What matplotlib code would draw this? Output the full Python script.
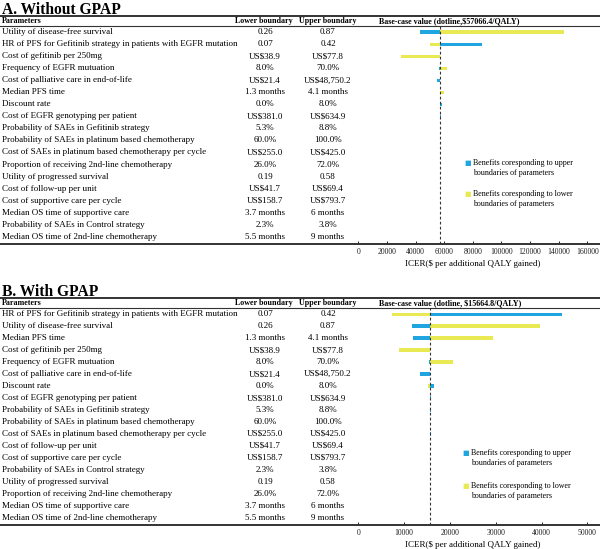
import matplotlib.pyplot as plt
from matplotlib.lines import Line2D

# === DATA ===
params_a = [
    "Utility of disease-free survival",
    "HR of PFS for Gefitinib strategy in patients with EGFR mutation",
    "Cost of gefitinib per 250mg",
    "Frequency of EGFR mutuation",
    "Cost of palliative care in end-of-life",
    "Median PFS time",
    "Discount rate",
    "Cost of EGFR genotyping per patient",
    "Probability of SAEs in Gefitinib strategy",
    "Probability of SAEs in platinum based chemotherapy",
    "Cost of SAEs in platinum based chemotherapy per cycle",
    "Proportion of receiving 2nd-line chemotherapy",
    "Utility of progressed survival",
    "Cost of follow-up per unit",
    "Cost of supportive care per cycle",
    "Median OS time of supportive care",
    "Probability of SAEs in Control strategy",
    "Median OS time of 2nd-line chemotherapy",
]
lower_a = ["0.26", "0.07", "US$38.9", "8.0%", "US$21.4", "1.3 months", "0.0%",
           "US$381.0", "5.3%", "60.0%", "US$255.0", "26.0%", "0.19", "US$41.7",
           "US$158.7", "3.7 months", "2.3%", "5.5 months"]
upper_a = ["0.87", "0.42", "US$77.8", "70.0%", "US$48,750.2", "4.1 months", "8.0%",
           "US$634.9", "8.8%", "100.0%", "US$425.0", "72.0%", "0.58", "US$69.4",
           "US$793.7", "6 months", "3.8%", "9 months"]
base_a = 57066.4
# ICER at lower / upper boundary of each parameter
icer_low_a = [144000, 50300, 29900, 62200, 57066.4, 59700, 56900, 57066.4, 57066.4,
              57066.4, 57066.4, 57066.4, 57066.4, 57066.4, 57066.4, 57066.4, 57066.4, 57066.4]
icer_up_a = [42900, 86500, 57066.4, 56600, 55200, 57066.4, 58200, 57500, 57400,
             57200, 57150, 57066.4, 57066.4, 57066.4, 57066.4, 57066.4, 57066.4, 57066.4]

params_b = [
    "HR of PFS for Gefitinib strategy in patients with EGFR mutation",
    "Utility of disease-free survival",
    "Median PFS time",
    "Cost of gefitinib per 250mg",
    "Frequency of EGFR mutuation",
    "Cost of palliative care in end-of-life",
    "Discount rate",
    "Cost of EGFR genotyping per patient",
    "Probability of SAEs in Gefitinib strategy",
    "Probability of SAEs in platinum based chemotherapy",
    "Cost of SAEs in platinum based chemotherapy per cycle",
    "Cost of follow-up per unit",
    "Cost of supportive care per cycle",
    "Probability of SAEs in Control strategy",
    "Utility of progressed survival",
    "Proportion of receiving 2nd-line chemotherapy",
    "Median OS time of supportive care",
    "Median OS time of 2nd-line chemotherapy",
]
lower_b = ["0.07", "0.26", "1.3 months", "US$38.9", "8.0%", "US$21.4", "0.0%",
           "US$381.0", "5.3%", "60.0%", "US$255.0", "US$41.7", "US$158.7", "2.3%",
           "0.19", "26.0%", "3.7 months", "5.5 months"]
upper_b = ["0.42", "0.87", "4.1 months", "US$77.8", "70.0%", "US$48,750.2", "8.0%",
           "US$634.9", "8.8%", "100.0%", "US$425.0", "US$69.4", "US$793.7", "3.8%",
           "0.58", "72.0%", "6 months", "9 months"]
base_b = 15664.8
icer_low_b = [7400, 39600, 29500, 8800, 20600, 15664.8, 15200, 15664.8, 15664.8,
              15750, 15664.8, 15664.8, 15664.8, 15664.8, 15664.8, 15664.8, 15664.8, 15664.8]
icer_up_b = [44500, 11700, 12000, 15664.8, 15400, 13500, 16500, 15850, 15850,
             15664.8, 15800, 15700, 15664.8, 15664.8, 15664.8, 15664.8, 15664.8, 15664.8]

ticks_a = [0, 20000, 40000, 60000, 80000, 100000, 120000, 140000, 160000]
ticks_b = [0, 10000, 20000, 30000, 40000, 50000]

BLUE = "#1fa5df"
YELLOW = "#e9e953"
SERIF = "Liberation Serif"

W, H = 600, 549
fig = plt.figure(figsize=(6, 5.49), dpi=100)
plt.rcParams["font.family"] = SERIF

ROW_FS = 6.5
HEAD_FS = 5.8


def fx(px):
    return px / W


def fy(py):
    return 1 - py / H


def hline(py, lw):
    fig.add_artist(Line2D([0, 1], [fy(py), fy(py)], color="#333333", lw=lw,
                          transform=fig.transFigure))


def panel(title, params, lower, upper, base, icer_low, icer_up, ticks, xmax,
          basetxt, top_rule, row_sp, legend_y, legend_x, legend_gap):
    header_y = top_rule + 5.5
    head_rule = top_rule + 10
    first_row = top_rule + 16.8
    last_row = first_row + row_sp * 17
    bottom_rule = last_row + 7.6

    fig.text(fx(2), fy(top_rule - 1.6), title, fontsize=11.2, fontweight="bold",
             va="baseline", ha="left")
    hline(top_rule, 1.4)
    hline(head_rule, 0.8)
    hline(bottom_rule, 1.4)

    fig.text(fx(2), fy(header_y), "Parameters", fontsize=HEAD_FS, fontweight="bold",
             va="center")
    fig.text(fx(264), fy(header_y), "Lower boundary", fontsize=HEAD_FS,
             fontweight="bold", va="center", ha="center")
    fig.text(fx(328), fy(header_y), "Upper boundary", fontsize=HEAD_FS,
             fontweight="bold", va="center", ha="center")
    fig.text(fx(379), fy(header_y), basetxt, fontsize=HEAD_FS,
             fontweight="bold", va="center", ha="left")

    for i, (p, lo, up) in enumerate(zip(params, lower, upper)):
        yy = fy(first_row + row_sp * i)
        fig.text(fx(2), yy, p, fontsize=ROW_FS, va="center")
        fig.text(fx(265), yy, lo, fontsize=ROW_FS, va="center", ha="center")
        fig.text(fx(328), yy, up, fontsize=ROW_FS, va="center", ha="center")

    # tornado axes
    ax_left, ax_right = 358.3, 587.3
    ax = fig.add_axes([fx(ax_left), fy(bottom_rule), (ax_right - ax_left) / W,
                       (bottom_rule - head_rule) / H])
    rows = list(range(len(params)))
    ax.barh(rows, [v - base for v in icer_up], left=base, height=0.3,
            color=BLUE, linewidth=0)
    ax.barh(rows, [v - base for v in icer_low], left=base, height=0.3,
            color=YELLOW, linewidth=0)
    ax.axvline(base, color="#333333", lw=0.8, ls=(0, (2.5, 2)))
    ax.set_xlim(0, xmax)
    ax.set_ylim((bottom_rule - first_row) / row_sp, (head_rule - first_row) / row_sp)
    for s in ax.spines.values():
        s.set_visible(False)
    ax.set_yticks([])
    ax.set_xticks(ticks)
    ax.set_xticklabels([str(t) for t in ticks], fontsize=5.6)
    ax.tick_params(axis="x", direction="in", length=2.5, width=0.7, pad=3,
                   colors="#222222")
    ax.set_xlabel("ICER($ per additional QALY gained)", fontsize=6.5, labelpad=2.5)
    ax.patch.set_alpha(0)

    # legend
    for k, (col, txt) in enumerate([(BLUE, "upper"), (YELLOW, "lower")]):
        ly = legend_y + k * legend_gap
        fig.text(fx(legend_x - 1.5), fy(ly), "\u25a0", color=col, fontsize=5,
                 family="DejaVu Sans", va="center", ha="left")
        fig.text(fx(legend_x + 7), fy(ly), "Benefits coresponding to %s" % txt,
                 fontsize=HEAD_FS, va="center", ha="left")
        fig.text(fx(legend_x + 7), fy(ly + 9.6), "boundaries of parameters",
                 fontsize=HEAD_FS, va="center", ha="left")


panel("A. Without GPAP", params_a, lower_a, upper_a, base_a, icer_low_a, icer_up_a,
      ticks_a, 160000, "Base-case value (dotline,$57066.4/QALY)", 15.5, 12.02,
      163.3, 466, 30.7)
panel("B. With GPAP", params_b, lower_b, upper_b, base_b, icer_low_b, icer_up_b,
      ticks_b, 50000, "Base-case value (dotline, $15664.8/QALY)", 297.5, 11.96,
      453.3, 464, 32.7)

fig.savefig("out.png", dpi=100)
